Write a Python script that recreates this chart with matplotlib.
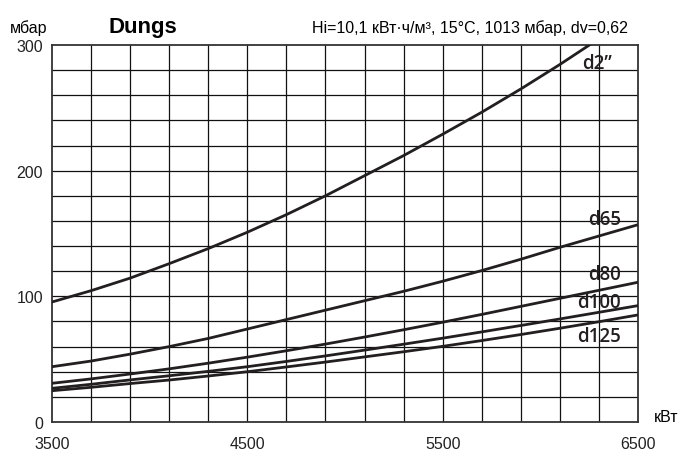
import matplotlib
matplotlib.use("Agg")
import matplotlib.pyplot as plt

# readings from the chart (x in кВт, y in мбар)
x_d2 = [3500, 3700, 3900, 4100, 4300, 4500, 4700, 4900, 5100, 5300, 5500, 5700, 5900, 6100, 6300]
y_d2 = [95.5, 104.5, 114.5, 126, 138, 151, 165, 180, 196, 212, 229, 246.5, 265, 284.5, 305]

x_common = [3500, 3700, 3900, 4100, 4300, 4500, 4700, 4900, 5100, 5300, 5500, 5700, 5900, 6100, 6300, 6500]
y_d65 = [44, 48.5, 54, 60, 66.5, 74, 81.5, 89, 96.5, 104, 112, 120.5, 129.5, 139, 148, 157]
y_d80 = [30.8, 34.3, 38.2, 42.3, 46.8, 51.6, 56.7, 62, 67.6, 73.4, 79.4, 85.6, 92, 98.4, 104.8, 111.2]
y_d100 = [26.8, 30, 33.5, 36.8, 40.3, 44, 48.2, 52.6, 57.2, 61.9, 66.7, 71.7, 76.8, 82, 87.3, 92.6]
y_d125 = [24.9, 27.6, 30.6, 33.4, 36.6, 40, 43.8, 47.7, 51.8, 55.9, 60.2, 64.8, 69.6, 74.6, 79.8, 85.2]

curve_names = ["d2\u201d", "d65", "d80", "d100", "d125"]
label_x = [6365, 6413, 6413, 6413, 6413]
label_y = [286, 161.5, 118, 95.5, 68.4]

x_ticks = [3500, 4500, 5500, 6500]
y_ticks = [0, 100, 200, 300]

ink = "#231f20"
plt.rcParams["font.family"] = ["Liberation Sans", "DejaVu Sans"]

fig = plt.figure(figsize=(6.81, 4.52), dpi=100)
ax = fig.add_axes([52 / 681, 1 - 423 / 452, 586 / 681, 377 / 452])

# grid every 200 кВт and 20 мбар
for gx in range(3700, 6500, 200):
    ax.axvline(gx, color="#111111", lw=0.9, zorder=1)
for gy in range(20, 300, 20):
    ax.axhline(gy, color="#111111", lw=0.9, zorder=1)

ax.plot(x_d2, y_d2, color=ink, lw=2.0, zorder=3)
for ys in [y_d65, y_d80, y_d100, y_d125]:
    ax.plot(x_common, ys, color=ink, lw=2.0, zorder=3)

for name, lx, ly in zip(curve_names, label_x, label_y):
    ax.text(lx, ly, name, ha="right", va="center", fontsize=13.5,
            family="Open Sans", fontweight="semibold", color=ink, zorder=4)

ax.set_xlim(3500, 6500)
ax.set_ylim(0, 300)
ax.set_xticks(x_ticks)
ax.set_yticks(y_ticks)
ax.tick_params(length=0, labelsize=11.5, colors="#222222")
ax.tick_params(axis="x", pad=10)
ax.tick_params(axis="y", pad=6.5)
for s in ax.spines.values():
    s.set_color("#333333")
    s.set_linewidth(1.3)

fig.text(28.5 / 681, 1 - 28 / 452, "мбар", ha="center", va="center", fontsize=11.5)
fig.text(108 / 681, 1 - 27 / 452, "Dungs", ha="left", va="center", fontsize=16, fontweight="bold")
fig.text(628 / 681, 1 - 28 / 452, "Hi=10,1 кВт·ч/м³, 15°C, 1013 мбар, dv=0,62",
         ha="right", va="center", fontsize=11.5)
fig.text(666 / 681, 1 - 418 / 452, "кВт", ha="center", va="center", fontsize=11.5)

fig.savefig("out.png", dpi=100)
